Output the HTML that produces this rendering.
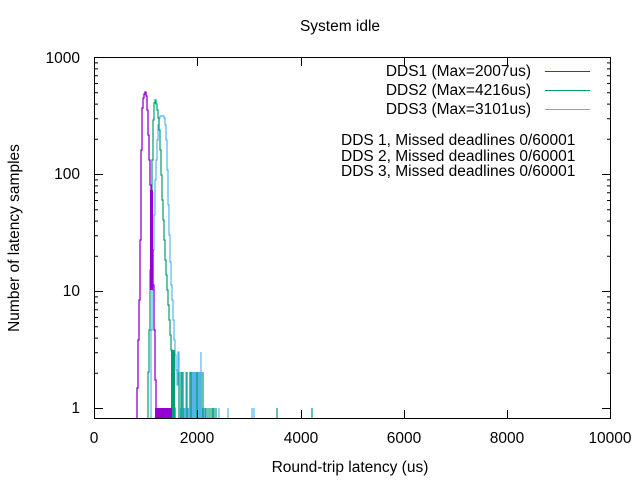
<!DOCTYPE html>
<html><head><meta charset="utf-8"><style>
body{margin:0;background:#fff}
svg{display:block}
text{font-family:"Liberation Sans",sans-serif;font-size:15.5px;fill:#000}
</style></head><body>
<svg width="640" height="480" viewBox="0 0 640 480">
<rect width="640" height="480" fill="#fff"/>
<!-- blue -->
<g stroke="#56b4e9" fill="none" stroke-width="1.2">
<rect x="180" y="408" width="26" height="11" fill="#56b4e9" stroke="none"/>
<rect x="189" y="372" width="13" height="47" fill="#56b4e9" stroke="none"/>
<path d="M151,419 V330 H152 V290 H153 V250 H154 V215 H155 V180 H156 V160 H157 V140 H158 V125 H159 V118 H160 V116 H164 V118 H165 V125 H166 V140 H167 V170 H168 V205 H169 V235 H170 V262 H171 V285 H172 V300 H173 V320 H174 V340 H175 V355 H176 V370 H177 V385 H178 V352 H179 V419"/>
<path d="M201,419V352 M182,419V372 M186,419V372 M228,419V408 M252,419V408 M254,419V408 M219,419V408 M213,419V408"/>
</g>
<!-- green -->
<g stroke="#009e73" fill="none" stroke-width="1.2">
<path d="M148,419 V372 H149 V330 H150 V270 H151 V210 H152 V160 H153 V120 H154 V103 H155 V100 H156 V104 H157 V110 H158 V118 H159 V130 H160 V150 H161 V175 H162 V200 H163 V220 H164 V240 H165 V260 H166 V275 H167 V290 H168 V305 H169 V320 H170 V335 H171 V350 H172 V365 H173 V380 H174 V408 H175 V419"/>
<rect x="171" y="350" width="4" height="69" fill="#009e73" stroke="none"/>
<path d="M179,419V372 M181,419V372 M183,419V372 M187,419V372 M191,419V372 M197,419V372 M203,419V372 M206,419V408 M208,419V408 M210,419V408 M212,419V408 M214,419V408 M216,419V408 M277,419V408 M312,419V408 M175,419V408"/>
</g>
<!-- purple -->
<g stroke="#9400d3" fill="none" stroke-width="1.3">
<rect x="155" y="408" width="17" height="11" fill="#9400d3" stroke="none"/>
<path d="M137,419 V388 H138 V340 H139 V300 H140 V240 H141 V150 H142 V108 H143 V98 H144 V94 H145 V92 H146 V96 H147 V110 H148 V135 H149 V160 H150 V185 H151 V215 H152 V250 H153 V285 H154 V330 H155 V380 H156 V408"/>
<rect x="150" y="190" width="3" height="100" fill="#9400d3" stroke="none"/>
</g>
<!-- frame -->
<rect x="94.5" y="57.5" width="516" height="361" fill="none" stroke="#000" stroke-width="1"/>
<g stroke="#000" stroke-width="1">
<path d="M94,408.5h9M611,408.5h-9M94,291.5h9M611,291.5h-9M94,174.5h9M611,174.5h-9M94,57.5h9"/>
<path d="M94,373.3h4M94,352.7h4M94,338.1h4M94,326.8h4M94,317.5h4M94,309.7h4M94,302.9h4M94,296.9h4
M94,256.3h4M94,235.7h4M94,221.1h4M94,209.8h4M94,200.5h4M94,192.7h4M94,185.9h4M94,179.9h4
M94,139.3h4M94,118.7h4M94,104.1h4M94,92.8h4M94,83.5h4M94,75.7h4M94,68.9h4M94,62.9h4"/>
<path d="M611,373.3h-4M611,352.7h-4M611,338.1h-4M611,326.8h-4M611,317.5h-4M611,309.7h-4M611,302.9h-4M611,296.9h-4
M611,256.3h-4M611,235.7h-4M611,221.1h-4M611,209.8h-4M611,200.5h-4M611,192.7h-4M611,185.9h-4M611,179.9h-4
M611,139.3h-4M611,118.7h-4M611,104.1h-4M611,92.8h-4M611,83.5h-4M611,75.7h-4M611,68.9h-4M611,62.9h-4"/>
<path d="M197.5,419v-9M197.5,57v9M301.5,419v-9M301.5,57v9M404.5,419v-9M404.5,57v9M507.5,419v-9M507.5,57v9"/>
</g>
<g text-anchor="end">
<text x="80" y="413">1</text><text x="80" y="296">10</text><text x="80" y="179">100</text><text x="80" y="63">1000</text>
</g>
<g text-anchor="middle">
<text x="94" y="443">0</text><text x="197" y="443">2000</text><text x="301" y="443">4000</text><text x="404" y="443">6000</text><text x="507" y="443">8000</text><text x="610" y="443">10000</text>
<text x="340" y="31">System idle</text>
<text x="350" y="472">Round-trip latency (us)</text>
<text transform="translate(19,238) rotate(-90)">Number of latency samples</text>
</g>
<g text-anchor="end">
<text x="531" y="76">DDS1 (Max=2007us)</text>
<text x="531" y="95">DDS2 (Max=4216us)</text>
<text x="531" y="114">DDS3 (Max=3101us)</text>
</g>
<path d="M545,71.5h45" stroke="#9400d3"/>
<path d="M545,90.5h45" stroke="#009e73"/>
<path d="M545,109.5h45" stroke="#56b4e9"/>
<text x="341" y="145">DDS 1, Missed deadlines 0/60001</text>
<text x="341" y="161">DDS 2, Missed deadlines 0/60001</text>
<text x="341" y="176">DDS 3, Missed deadlines 0/60001</text>
</svg>
</body></html>
